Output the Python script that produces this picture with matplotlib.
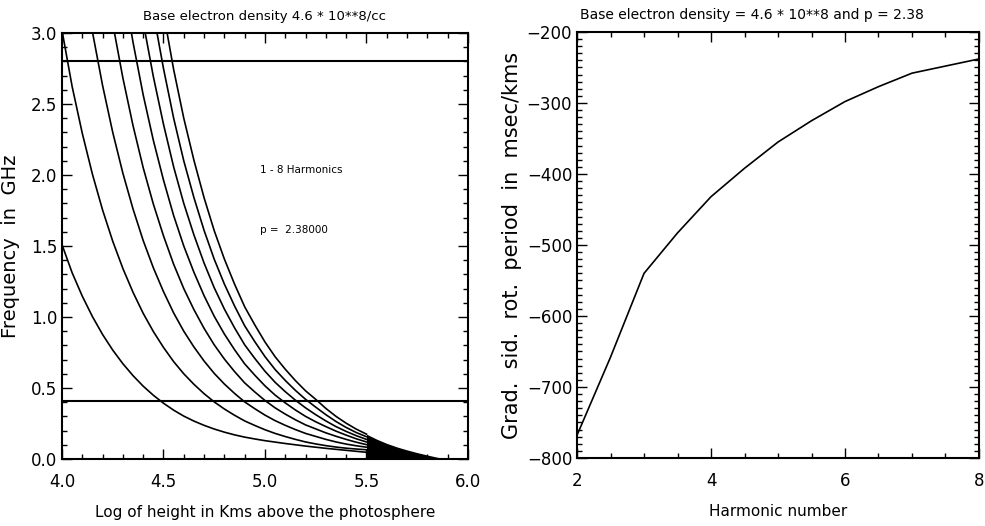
import matplotlib
matplotlib.use("Agg")
import matplotlib.pyplot as plt
from matplotlib.ticker import MultipleLocator, FormatStrFormatter

plt.rcParams['font.family'] = ['DejaVu Sans']

# ---------------- data ----------------
log_height = [4.00, 4.05, 4.10, 4.15, 4.20, 4.25, 4.30, 4.35, 4.40, 4.45,
              4.50, 4.55, 4.60, 4.65, 4.70, 4.75, 4.80, 4.85, 4.90, 4.95,
              5.00, 5.05, 5.10, 5.15, 5.20, 5.25, 5.30, 5.35, 5.40, 5.45, 5.50]

harm1 = [1.510, 1.312, 1.147, 1.003, 0.877, 0.767, 0.671, 0.587, 0.513, 0.449,
         0.393, 0.344, 0.302, 0.267, 0.237, 0.211, 0.189, 0.170, 0.154, 0.141,
         0.129, 0.119, 0.109, 0.100, 0.091, 0.083, 0.075, 0.068, 0.061, 0.054, 0.047]
harm2 = [3.020, 2.624, 2.294, 2.006, 1.754, 1.534, 1.342, 1.174, 1.026, 0.898,
         0.786, 0.686, 0.600, 0.526, 0.460, 0.402, 0.352, 0.308, 0.268, 0.236,
         0.206, 0.180, 0.158, 0.138, 0.120, 0.106, 0.094, 0.084, 0.076, 0.070, 0.065]
harm3 = [None, None, 3.441, 3.009, 2.631, 2.301, 2.013, 1.761, 1.539, 1.347,
         1.179, 1.029, 0.900, 0.789, 0.690, 0.603, 0.528, 0.462, 0.402, 0.354,
         0.309, 0.270, 0.237, 0.207, 0.180, 0.159, 0.138, 0.120, 0.105, 0.093, 0.083]
harm4 = [None, None, None, None, 3.508, 3.068, 2.684, 2.348, 2.052, 1.796,
         1.572, 1.372, 1.200, 1.052, 0.920, 0.804, 0.704, 0.616, 0.536, 0.472,
         0.412, 0.360, 0.316, 0.276, 0.240, 0.212, 0.184, 0.160, 0.138, 0.118, 0.101]
harm5 = [None, None, None, None, None, 3.835, 3.355, 2.935, 2.565, 2.245,
         1.965, 1.715, 1.500, 1.315, 1.150, 1.005, 0.880, 0.770, 0.670, 0.590,
         0.515, 0.450, 0.395, 0.345, 0.300, 0.262, 0.228, 0.196, 0.168, 0.142, 0.120]
harm6 = [None, None, None, None, None, None, 4.026, 3.522, 3.078, 2.694,
         2.358, 2.058, 1.800, 1.578, 1.380, 1.206, 1.056, 0.924, 0.804, 0.708,
         0.618, 0.540, 0.474, 0.414, 0.360, 0.312, 0.268, 0.228, 0.194, 0.164, 0.138]
harm7 = [None, None, None, None, None, None, None, None, 3.591, 3.143,
         2.751, 2.401, 2.100, 1.841, 1.610, 1.407, 1.232, 1.078, 0.938, 0.826,
         0.721, 0.630, 0.553, 0.483, 0.420, 0.365, 0.312, 0.264, 0.222, 0.186, 0.157]
harm8 = [None, None, None, None, None, None, None, None, None, 3.592,
         3.144, 2.744, 2.400, 2.104, 1.840, 1.608, 1.408, 1.232, 1.072, 0.944,
         0.824, 0.720, 0.632, 0.552, 0.480, 0.420, 0.356, 0.300, 0.252, 0.210, 0.175]
harmonic_curves = [harm1, harm2, harm3, harm4, harm5, harm6, harm7, harm8]

# dense overlapping region beyond log h = 5.5
tail_x = [5.50, 5.55, 5.60, 5.65, 5.70, 5.75, 5.80, 5.85, 5.90]
tail_top = [0.175, 0.140, 0.110, 0.085, 0.064, 0.045, 0.028, 0.012, 0.002]

obs_freqs = [2.80, 0.41]   # GHz, horizontal lines

harmonic_number = [2, 2.5, 3, 3.5, 4, 4.5, 5, 5.5, 6, 6.5, 7, 7.5, 8]
grad_period = [-768, -658, -540, -483, -432, -392, -355, -325, -298, -277, -258, -248, -238]

left_title = "Base electron density 4.6 * 10**8/cc"
right_title = "Base electron density = 4.6 * 10**8 and p = 2.38"

# ---------------- figure ----------------
fig = plt.figure(figsize=(9.85, 5.26), dpi=100)
ax1 = fig.add_axes([0.0629, 0.1274, 0.4122, 0.8099])
ax2 = fig.add_axes([0.5858, 0.1293, 0.4081, 0.8099])

lw = 1.2
for curve in harmonic_curves:
    xs = [x for x, v in zip(log_height, curve) if v is not None]
    ys = [v for v in curve if v is not None]
    ax1.plot(xs, ys, color='black', lw=lw)
ax1.fill_between(tail_x, 0, tail_top, color='black', lw=0)
for f in obs_freqs:
    ax1.axhline(f, color='black', lw=1.5)

ax1.set_xlim(4.0, 6.0)
ax1.set_ylim(0.0, 3.0)
ax1.xaxis.set_major_locator(MultipleLocator(0.5))
ax1.xaxis.set_minor_locator(MultipleLocator(0.1))
ax1.yaxis.set_major_locator(MultipleLocator(0.5))
ax1.yaxis.set_minor_locator(MultipleLocator(0.1))
ax1.xaxis.set_major_formatter(FormatStrFormatter('%.1f'))
ax1.yaxis.set_major_formatter(FormatStrFormatter('%.1f'))
ax1.text(4.975, 2.035, "1 - 8 Harmonics", fontsize=7.5, ha='left', va='center')
ax1.text(4.975, 1.61, "p =  2.38000", fontsize=7.5, ha='left', va='center')
ax1.text(0.5, 1.03, left_title, fontsize=9.5, ha='center', va='baseline',
         transform=ax1.transAxes)
ax1.set_xlabel("Log of height in Kms above the photosphere", fontsize=11, labelpad=10)
ax1.set_ylabel("Frequency  in  GHz", fontsize=14, labelpad=8)

ax2.plot(harmonic_number, grad_period, color='black', lw=lw)
ax2.set_xlim(2, 8)
ax2.set_ylim(-800, -200)
ax2.xaxis.set_major_locator(MultipleLocator(2))
ax2.xaxis.set_minor_locator(MultipleLocator(0.5))
ax2.yaxis.set_major_locator(MultipleLocator(100))
ax2.yaxis.set_minor_locator(MultipleLocator(10))
ax2.text(0.435, 1.03, right_title, fontsize=10, ha='center', va='baseline',
         transform=ax2.transAxes)
ax2.set_xlabel("Harmonic number", fontsize=11, labelpad=10)
ax2.set_ylabel("Grad.  sid.  rot.  period  in  msec/kms", fontsize=15, labelpad=3)

for ax in (ax1, ax2):
    for sp in ax.spines.values():
        sp.set_linewidth(1.5)
    ax.tick_params(which='both', direction='in', top=True, right=True, labelsize=12)
    ax.tick_params(axis='x', which='major', pad=10)
    ax.tick_params(which='major', length=7, width=1)
    ax.tick_params(which='minor', length=3.5, width=1)

fig.savefig("out.png", dpi=100)
